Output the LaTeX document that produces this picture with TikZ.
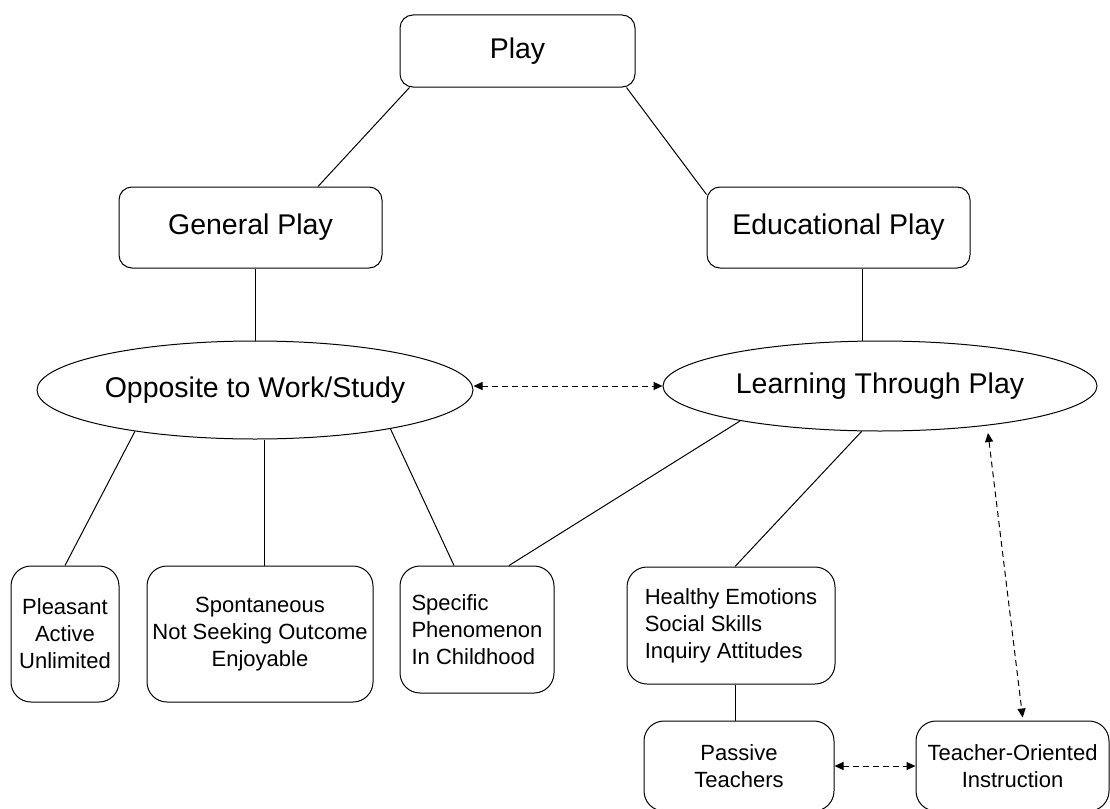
\documentclass[tikz,border=0pt]{standalone}
\usepackage{fontspec}
\setmainfont{Liberation Sans}
\usetikzlibrary{shapes.geometric,arrows.meta}
\begin{document}
\begin{tikzpicture}[x=1pt,y=-1pt,
  big/.style={draw, rounded corners=13pt, line width=1pt, inner sep=0pt, font=\fontsize{28.5}{34}\selectfont},
  small/.style={draw, rounded corners=20pt, line width=1pt, inner sep=0pt, align=center, font=\fontsize{22}{27}\selectfont},
  smallleft/.style={small, align=left},
  oval/.style={draw, ellipse, line width=1pt, inner sep=0pt, font=\fontsize{28.5}{34}\selectfont},
  link/.style={line width=1pt},
  dlink/.style={line width=1pt, dash pattern=on 6pt off 4pt, {Triangle[length=9pt,width=8pt]}-{Triangle[length=9pt,width=8pt]}}
]
\useasboundingbox (0,0) rectangle (1110,808);
\clip (0,0) rectangle (1110,808);
\fill[white] (0,0) rectangle (1110,808);

\node[big, minimum width=235pt, minimum height=72pt] (play) at (517.5,51) {Play};
\node[big, minimum width=263pt, minimum height=81pt] (gen) at (250.5,227.5) {General Play};
\node[big, minimum width=263pt, minimum height=81pt] (edu) at (838.5,227.5) {Educational Play};

\node[oval, minimum width=436pt, minimum height=98pt] (e1) at (255,390) {Opposite to Work/Study};
\node[oval, minimum width=434pt, minimum height=90pt] (e2) at (880,386) {Learning Through Play};

\node[small, minimum width=108pt, minimum height=136pt] (pleasant) at (65,634) {Pleasant\\Active\\Unlimited};
\node[small, minimum width=226pt, minimum height=136pt] (spont) at (260,634) {Spontaneous\\Not Seeking Outcome\\Enjoyable};
\node[smallleft, minimum width=154pt, minimum height=127pt] (spec) at (477,629.5) {Specific\\Phenomenon\\In Childhood};
\node[smallleft, minimum width=208pt, minimum height=117pt] (healthy) at (731,625.5) {Healthy Emotions\\Social Skills\\Inquiry Attitudes};
\node[small, minimum width=190pt, minimum height=90pt] (passive) at (739,766) {Passive\\Teachers};
\node[small, minimum width=193pt, minimum height=90pt] (teacher) at (1012.5,766) {Teacher-Oriented\\Instruction};

% connectors
\draw[link] ([xshift=10pt]play.south west) -- ([xshift=67.5pt]gen.north);
\draw[link] ([xshift=-9pt]play.south east) -- ([yshift=-8pt]edu.north west);
\draw[link] (e1.north |- gen.south) -- (e1.north);
\draw[link] ([xshift=23.5pt]edu.south) -- ([xshift=-18pt]e2.north);
\draw[dlink] (e2.west -| e1.east) -- (e2.west);

\draw[link] (pleasant.north) -- (e1.199);
\draw[link] ([xshift=4pt]spont.north) -- ([xshift=4pt]spont.north |- e1.south);
\draw[link] ([xshift=-23pt]spec.north) -- (e1.344);
\draw[link] ([xshift=32pt]spec.north) -- (e2.194);
\draw[link] ([xshift=4pt]healthy.north) -- (e2.248);
\draw[dlink, shorten >=3pt] ([xshift=108pt,yshift=-47pt]e2.center) -- ([xshift=10.5pt]teacher.north);

\draw[link] ([xshift=4pt]healthy.south) -- ([xshift=4pt]healthy.south |- passive.north);
\draw[dlink] (passive.east) -- (teacher.west);
\end{tikzpicture}
\end{document}
